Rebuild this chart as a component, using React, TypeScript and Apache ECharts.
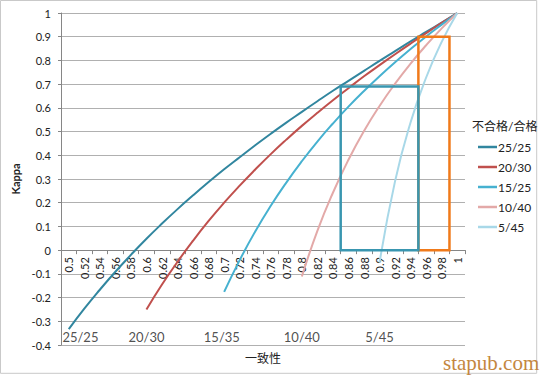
import { useEffect, useRef } from 'react';
import * as echarts from 'echarts';

const FONT = "Lato, 'Noto Sans CJK SC', sans-serif";

const agreement = ['0.5', '0.52', '0.54', '0.56', '0.58', '0.6', '0.62', '0.64', '0.66', '0.68', '0.7', '0.72', '0.74', '0.76', '0.78', '0.8', '0.82', '0.84', '0.86', '0.88', '0.9', '0.92', '0.94', '0.96', '0.98', '1'];

const k2525 = [-0.333, -0.247, -0.167, -0.091, -0.02, 0.048, 0.112, 0.173, 0.231, 0.287, 0.341, 0.392, 0.442, 0.491, 0.538, 0.583, 0.628, 0.672, 0.714, 0.756, 0.798, 0.839, 0.88, 0.92, 0.96, 1];
const k2030 = [null, null, null, null, null, -0.25, -0.145, -0.049, 0.04, 0.123, 0.2, 0.272, 0.34, 0.405, 0.466, 0.524, 0.579, 0.632, 0.683, 0.733, 0.78, 0.826, 0.871, 0.915, 0.958, 1];
const k1535 = [null, null, null, null, null, null, null, null, null, null, -0.176, -0.042, 0.079, 0.187, 0.285, 0.375, 0.458, 0.534, 0.605, 0.671, 0.733, 0.792, 0.848, 0.901, 0.951, 1];
const k1040 = [null, null, null, null, null, null, null, null, null, null, null, null, null, null, null, -0.111, 0.081, 0.242, 0.381, 0.502, 0.608, 0.702, 0.787, 0.864, 0.935, 1];
const k0545 = [null, null, null, null, null, null, null, null, null, null, null, null, null, null, null, null, null, null, null, null, -0.053, 0.291, 0.539, 0.728, 0.878, 1];

const seriesNames = ['25/25', '20/30', '15/25', '10/40', '5/45'];
const seriesColors = ['#31869F', '#C0504D', '#46B1D0', '#E3A9A8', '#A8D8E8'];

const blueBox = [[0.85, 0], [0.85, 0.69], [0.95, 0.69], [0.95, 0], [0.85, 0]];
const orangeBox = [[0.95, 0], [0.95, 0.9], [0.99, 0.9], [0.99, 0], [0.95, 0]];

const bottomLabels = ['25/25', '20/30', '15/35', '10/40', '5/45'];
const bottomLabelAt = [0.515, 0.6, 0.697, 0.8, 0.9];
const bottomLabelKappa = -0.365;

const yMin = -0.4;
const yMax = 1;

export default function App() {
  const ref = useRef<HTMLDivElement>(null);
  useEffect(() => {
    document.body.style.margin = '0';
    const chart = echarts.init(ref.current!, null, { renderer: 'svg' });
    const curves = [k2525, k2030, k1535, k1040, k0545];
    const gridBox = { left: 61, right: 77, top: 13, bottom: 30 };
    const plotHeight = 375 - gridBox.top - gridBox.bottom;
    const zeroOffset = -((0 - yMin) / (yMax - yMin)) * plotHeight;
    chart.setOption({
      animation: false,
      textStyle: { fontFamily: FONT },
      grid: [gridBox, gridBox],
      title: {
        text: '不合格/合格',
        left: 472,
        top: 120,
        padding: 0,
        textStyle: { fontFamily: FONT, fontSize: 12, fontWeight: 'normal', color: '#222' },
      },
      legend: {
        data: seriesNames,
        orient: 'vertical',
        left: 478,
        top: 140,
        padding: 0,
        icon: 'rect',
        itemWidth: 19,
        itemHeight: 2.5,
        itemGap: 6,
        selectedMode: false,
        textStyle: { fontFamily: FONT, fontSize: 12, lineHeight: 14, color: '#222', padding: [0, 0, 0, -4] },
      },
      xAxis: [
        {
          type: 'category',
          gridIndex: 0,
          data: agreement,
          boundaryGap: true,
          position: 'bottom',
          offset: zeroOffset,
          axisLine: { onZero: false, lineStyle: { color: '#868686', width: 1 } },
          axisTick: { show: true, length: 4, lineStyle: { color: '#868686' } },
          axisLabel: { interval: 0, rotate: 90, margin: 7, fontSize: 11, color: '#222', fontFamily: FONT },
          splitLine: { show: false },
        },
        {
          type: 'value',
          gridIndex: 1,
          min: 0.49,
          max: 1.01,
          position: 'bottom',
          axisLine: { show: false, onZero: false },
          axisTick: { show: false },
          axisLabel: { show: false },
          splitLine: { show: false },
          name: '一致性',
          nameLocation: 'middle',
          nameGap: 7,
          nameTextStyle: { fontFamily: FONT, fontSize: 12, color: '#222', verticalAlign: 'top' },
        },
      ],
      yAxis: [
        {
          type: 'value',
          gridIndex: 0,
          min: yMin,
          max: yMax,
          interval: 0.1,
          axisLine: { show: true, onZero: false, lineStyle: { color: '#868686' } },
          axisTick: { show: true, length: 3, lineStyle: { color: '#868686' } },
          axisLabel: { fontSize: 11, color: '#222', margin: 10, fontFamily: FONT },
          splitLine: { show: true, lineStyle: { color: '#B0B0B0', width: 1 } },
          name: 'Kappa',
          nameLocation: 'middle',
          nameGap: 35,
          nameTextStyle: { fontFamily: FONT, fontSize: 11, fontWeight: 'bold', color: '#222' },
        },
        {
          type: 'value',
          gridIndex: 1,
          min: yMin,
          max: yMax,
          interval: 0.1,
          show: false,
        },
      ],
      series: [
        ...curves.map((d, i) => ({
          name: seriesNames[i],
          type: 'line',
          xAxisIndex: 0,
          yAxisIndex: 0,
          data: d,
          smooth: true,
          symbol: 'none',
          showSymbol: false,
          color: seriesColors[i],
          lineStyle: { color: seriesColors[i], width: 2 },
          z: 3,
        })),
        {
          name: 'orangeBox',
          type: 'line',
          xAxisIndex: 1,
          yAxisIndex: 1,
          data: orangeBox,
          symbol: 'none',
          lineStyle: { color: '#F07A1A', width: 2.5, join: 'miter', cap: 'square' },
          z: 4,
        },
        {
          name: 'blueBox',
          type: 'line',
          xAxisIndex: 1,
          yAxisIndex: 1,
          data: blueBox,
          symbol: 'none',
          lineStyle: { color: '#3996B0', width: 2.5, join: 'miter', cap: 'square' },
          z: 5,
        },
        {
          name: 'labels',
          type: 'scatter',
          xAxisIndex: 1,
          yAxisIndex: 1,
          silent: true,
          symbolSize: 1,
          itemStyle: { color: 'rgba(0,0,0,0)' },
          data: bottomLabels.map((t, i) => [bottomLabelAt[i], bottomLabelKappa, t]),
          label: {
            show: true,
            position: 'inside',
            formatter: (p: any) => p.data[2],
            fontFamily: FONT,
            fontSize: 13,
            color: '#222',
          },
          z: 6,
        },
      ],
      graphic: [
        {
          type: 'rect',
          shape: { x: 0.5, y: 0.5, width: 536.2, height: 372.8 },
          style: { fill: 'none', stroke: '#C9C9C9', lineWidth: 1 },
          silent: true,
          z: 0,
        },
        {
          type: 'text',
          x: 443,
          y: 363,
          style: {
            text: 'stapub.com',
            font: "21px 'Liberation Serif', serif",
            fill: '#C4873F',
            verticalAlign: 'middle',
            align: 'left',
          },
          silent: true,
          z: 10,
        },
      ],
    });
    return () => chart.dispose();
  }, []);
  return <div ref={ref} style={{ width: 542, height: 375 }} />;
}
